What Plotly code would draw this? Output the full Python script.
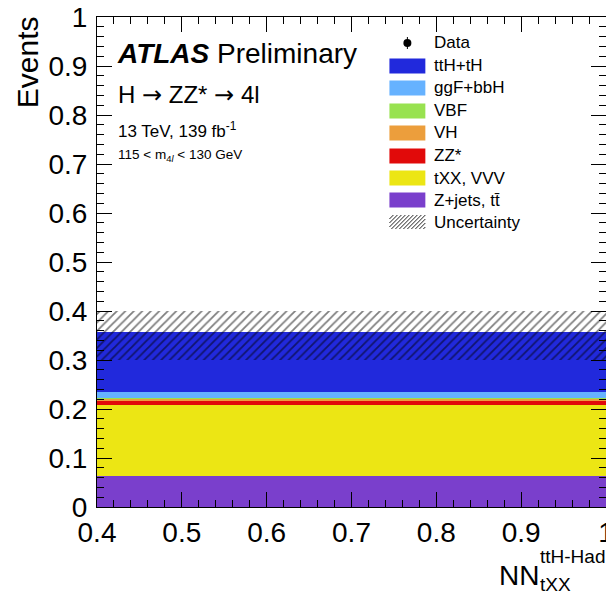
import numpy as np
import plotly.graph_objects as go

# ---------------- data ----------------
bin_edges = [0.4, 1.0]
# stacked components, bottom -> top
zjets_tt = [0.063]
txx_vvv = [0.145]
zz_star = [0.009]
vh = [0.005]
vbf = [0.001]
ggf_bbh = [0.011]
tth_th = [0.124]
unc_up = [0.042]
unc_down = [0.057]
data_counts = [0]

stack_names = ["Z+jets, t\u0074\u0304", "tXX, VVV", "ZZ*", "VH", "VBF", "ggF+bbH", "ttH+tH"]
stack_values = [zjets_tt, txx_vvv, zz_star, vh, vbf, ggf_bbh, tth_th]
stack_colors = ["#7a3fcc", "#ece614", "#e10a0a", "#ec9e3c", "#98e250", "#66b2ff", "#2129dc"]

legend_order = ["Data", "ttH+tH", "ggF+bbH", "VBF", "VH", "ZZ*", "tXX, VVV", stack_names[0], "Uncertainty"]

x_ticks = [0.4, 0.5, 0.6, 0.7, 0.8, 0.9, 1.0]
y_ticks = [0, 0.1, 0.2, 0.3, 0.4, 0.5, 0.6, 0.7, 0.8, 0.9, 1.0]

FONT = "Liberation Sans, Arial, Helvetica, sans-serif"
W, H = 606, 596
# plot area in pixels
L, R, T, B = 97, 607, 17, 507


def px(xw):
    return (xw - L) / (R - L)


def py(yw):
    return (B - yw) / (B - T)


edges = np.array(bin_edges)
centers = 0.5 * (edges[:-1] + edges[1:])
widths = edges[1:] - edges[:-1]

fig = go.Figure()
base = np.zeros(len(centers))
for name, vals, col in zip(stack_names, stack_values, stack_colors):
    v = np.array(vals, dtype=float)
    fig.add_trace(go.Bar(x=centers, y=v, base=base.copy(), width=widths, name=name,
                         marker=dict(color=col, line=dict(width=0)), showlegend=False))
    base = base + v

total = base
lo = total - np.array(unc_down)
hi = total + np.array(unc_up)
fig.add_trace(go.Bar(x=centers, y=hi - lo, base=lo, width=widths, name="Uncertainty",
                     marker=dict(color="rgba(0,0,0,0)", line=dict(width=0),
                                 pattern=dict(shape="/", fgcolor="black", bgcolor="rgba(0,0,0,0)",
                                              size=6, solidity=0.3)),
                     showlegend=False))

d = np.array(data_counts, dtype=float)
mask = d > 0
fig.add_trace(go.Scatter(x=centers[mask], y=d[mask], mode="markers", name="Data",
                         marker=dict(color="black", size=9), showlegend=False))

axis_common = dict(showline=True, linecolor="black", linewidth=1, mirror="allticks",
                   ticks="inside", tickcolor="black", tickwidth=1, ticklen=15,
                   showgrid=False, zeroline=False, automargin=False,
                   ticklabeloverflow="allow",
                   tickfont=dict(family=FONT, size=28, color="black"))
fig.update_xaxes(range=[bin_edges[0], bin_edges[-1]], tickvals=x_ticks,
                 ticktext=[f"{v:g}" for v in x_ticks], ticklabelstandoff=0,
                 minor=dict(ticks="inside", dtick=0.02, ticklen=7, tickcolor="black", tickwidth=1),
                 **axis_common)
fig.update_yaxes(range=[0, 1], tickvals=y_ticks, ticktext=[f"{v:g}" for v in y_ticks],
                 ticklabelstandoff=3,
                 minor=dict(ticks="inside", dtick=0.02, ticklen=7, tickcolor="black", tickwidth=1),
                 **axis_common)

ARROW = '<span style="font-family:DejaVu Sans">\u2192</span>'

ann = []
shapes = []
# axis titles
ann.append(dict(text="Events", textangle=-90, x=px(28), y=py(62), xref="paper", yref="paper",
                xanchor="center", yanchor="middle", showarrow=False,
                font=dict(family=FONT, size=30, color="black")))
ann.append(dict(text="NN", x=px(498), y=py(575), xref="paper", yref="paper",
                xanchor="left", yanchor="middle", showarrow=False,
                font=dict(family=FONT, size=28, color="black")))
ann.append(dict(text="ttH-Had", x=px(539), y=py(556), xref="paper", yref="paper",
                xanchor="left", yanchor="middle", showarrow=False,
                font=dict(family=FONT, size=19, color="black")))
ann.append(dict(text="tXX", x=px(539), y=py(584), xref="paper", yref="paper",
                xanchor="left", yanchor="middle", showarrow=False,
                font=dict(family=FONT, size=19, color="black")))
# labels in plot
ann.append(dict(text="<b><i>ATLAS</i></b> Preliminary", x=px(115), y=py(53), xref="paper", yref="paper",
                xanchor="left", yanchor="middle", showarrow=False,
                font=dict(family=FONT, size=28, color="black")))
ann.append(dict(text=f"H {ARROW} ZZ* {ARROW} 4l", x=px(116), y=py(95), xref="paper", yref="paper",
                xanchor="left", yanchor="middle", showarrow=False,
                font=dict(family=FONT, size=24, color="black")))
ann.append(dict(text="13 TeV, 139 fb<sup>-1</sup>", x=px(116), y=py(130), xref="paper", yref="paper",
                xanchor="left", yanchor="middle", showarrow=False,
                font=dict(family=FONT, size=17, color="black")))
ann.append(dict(text="115 < m<sub>4<i>l</i></sub> < 130 GeV", x=px(116), y=py(156), xref="paper", yref="paper",
                xanchor="left", yanchor="middle", showarrow=False,
                font=dict(family=FONT, size=13.5, color="black")))

# legend (drawn manually)
row_y = [43, 66, 88, 111, 133, 156, 178, 200, 222]
color_of = dict(zip(stack_names, stack_colors))
for name, yy in zip(legend_order, row_y):
    ann.append(dict(text=name, x=px(433), y=py(yy), xref="paper", yref="paper",
                    xanchor="left", yanchor="middle", showarrow=False,
                    font=dict(family=FONT, size=17, color="black")))
    if name == "Data":
        shapes.append(dict(type="circle", xref="paper", yref="paper",
                           x0=px(404), x1=px(412), y0=py(yy - 4), y1=py(yy + 4),
                           fillcolor="black", line=dict(width=0)))
        shapes.append(dict(type="line", xref="paper", yref="paper",
                           x0=px(408), x1=px(408), y0=py(yy - 6), y1=py(yy + 6),
                           line=dict(color="black", width=1)))
    elif name == "Uncertainty":
        x0, x1, y0, y1 = 390, 426, yy - 7, yy + 7
        segs = []
        s = x0 - (y1 - y0)
        while s < x1:
            ax, ay = s, y1
            bx, by = s + (y1 - y0), y0
            if ax < x0:
                ay = y1 - (x0 - ax)
                ax = x0
            if bx > x1:
                by = y0 + (bx - x1)
                bx = x1
            if bx > ax:
                segs.append(f"M{px(ax)},{py(ay)} L{px(bx)},{py(by)}")
            s += 4
        shapes.append(dict(type="path", xref="paper", yref="paper", path=" ".join(segs),
                           line=dict(color="#222222", width=1)))
    else:
        shapes.append(dict(type="rect", xref="paper", yref="paper",
                           x0=px(390), x1=px(426), y0=py(yy + 7.5), y1=py(yy - 7.5),
                           fillcolor=color_of[name], line=dict(width=0)))

fig.update_layout(width=W, height=H, barmode="overlay", bargap=0,
                  margin=dict(l=L, r=0, t=T, b=H - B, pad=0, autoexpand=False),
                  plot_bgcolor="white", paper_bgcolor="white",
                  annotations=ann, shapes=shapes, showlegend=False,
                  font=dict(family=FONT, color="black"))

fig.write_html("out.html", config={"displayModeBar": False},
               post_script="document.body.style.margin='0';document.body.style.overflow='hidden';")
